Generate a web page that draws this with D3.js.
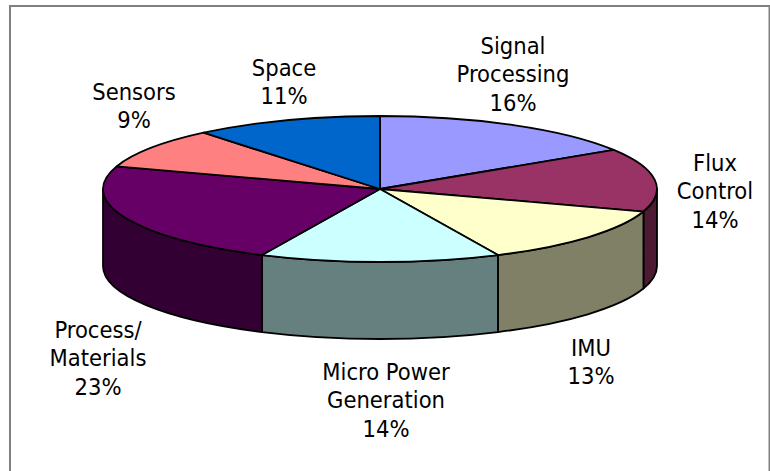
<!DOCTYPE html>
<html>
<head>
<meta charset="utf-8">
<script src="https://cdn.jsdelivr.net/npm/d3@7"></script>
<style>
html, body { margin: 0; padding: 0; background: #fff; overflow: hidden; }
svg { display: block; }
text { font-family: "DejaVu Sans Condensed", "DejaVu Sans", sans-serif; font-stretch: condensed; font-size: 23.5px; fill: #000; }
</style>
</head>
<body>
<script>
const categories = ["Signal Processing", "Flux Control", "IMU", "Micro Power Generation", "Process/ Materials", "Sensors", "Space"];
const values = [16, 14, 13, 14, 23, 9, 11];
const topColors = ["#9999ff", "#993366", "#ffffcc", "#ccffff", "#660066", "#ff8080", "#0066cc"];
const sideColors = ["#666699", "#4d1a33", "#808066", "#668080", "#330033", "#804040", "#003366"];
const labelLines = [["Signal", "Processing", "16%"], ["Flux", "Control", "14%"], ["IMU", "13%"], ["Micro Power", "Generation", "14%"], ["Process/", "Materials", "23%"], ["Sensors", "9%"], ["Space", "11%"]];
const labelCenters = [[513, 74], [715, 191], [591, 362], [386, 400], [98, 358], [134, 106], [284, 82]];

const width = 770, height = 471;
const cx = 380, cy = 189, rx = 277, ry = 73, depth = 77;
const lineHeight = 28.5;

const svg = d3.select("body").append("svg").attr("width", width).attr("height", height);

// Chart frame; its lower edge runs off the page.
svg.append("rect")
  .attr("x", 10).attr("y", 6)
  .attr("width", 759.5).attr("height", 500)
  .attr("fill", "#fff").attr("stroke", "#808080").attr("stroke-width", 2);

const slices = d3.pie().sort(null)(values);

// The disc is drawn as a unit circle and squashed into an ellipse.
const disc = svg.append("g").attr("transform", `translate(${cx},${cy}) scale(${rx},${ry})`);
const wallDrop = depth / ry;
const pt = a => [Math.sin(a), -Math.cos(a)];
const canvasAngle = a => a - Math.PI / 2;

function wallPath(a0, a1) {
  const p = d3.path();
  const [x0, y0] = pt(a0);
  const [x1, y1] = pt(a1);
  p.moveTo(x0, y0);
  p.arc(0, 0, 1, canvasAngle(a0), canvasAngle(a1));
  p.lineTo(x1, y1 + wallDrop);
  p.arc(0, wallDrop, 1, canvasAngle(a1), canvasAngle(a0), true);
  p.closePath();
  return p.toString();
}

// Only the part of the rim facing the viewer (right edge round to left edge) has a wall.
const front = slices
  .map((s, i) => ({ a0: Math.max(s.startAngle, Math.PI / 2), a1: Math.min(s.endAngle, 3 * Math.PI / 2), i }))
  .filter(d => d.a1 > d.a0);

const outline = sel => sel
  .attr("stroke", "#000").attr("stroke-width", 1.8)
  .attr("stroke-linejoin", "round")
  .attr("vector-effect", "non-scaling-stroke");

disc.selectAll("path.wall").data(front).join("path")
  .attr("class", "wall")
  .attr("d", d => wallPath(d.a0, d.a1))
  .attr("fill", d => sideColors[d.i])
  .call(outline);

const arc = d3.arc().innerRadius(0).outerRadius(1);
disc.selectAll("path.top").data(slices).join("path")
  .attr("class", "top")
  .attr("d", arc)
  .attr("fill", (d, i) => topColors[i])
  .call(outline);

const labels = svg.selectAll("text.label").data(labelLines).join("text")
  .attr("class", "label")
  .attr("text-anchor", "middle")
  .attr("transform", (d, i) => `translate(${labelCenters[i][0]},${labelCenters[i][1]})`);

labels.selectAll("tspan").data(d => d.map((t, j) => ({ t, j, n: d.length }))).join("tspan")
  .attr("x", 0)
  .attr("y", d => (d.j - (d.n - 1) / 2) * lineHeight + 8)
  .text(d => d.t);
</script>
</body>
</html>
